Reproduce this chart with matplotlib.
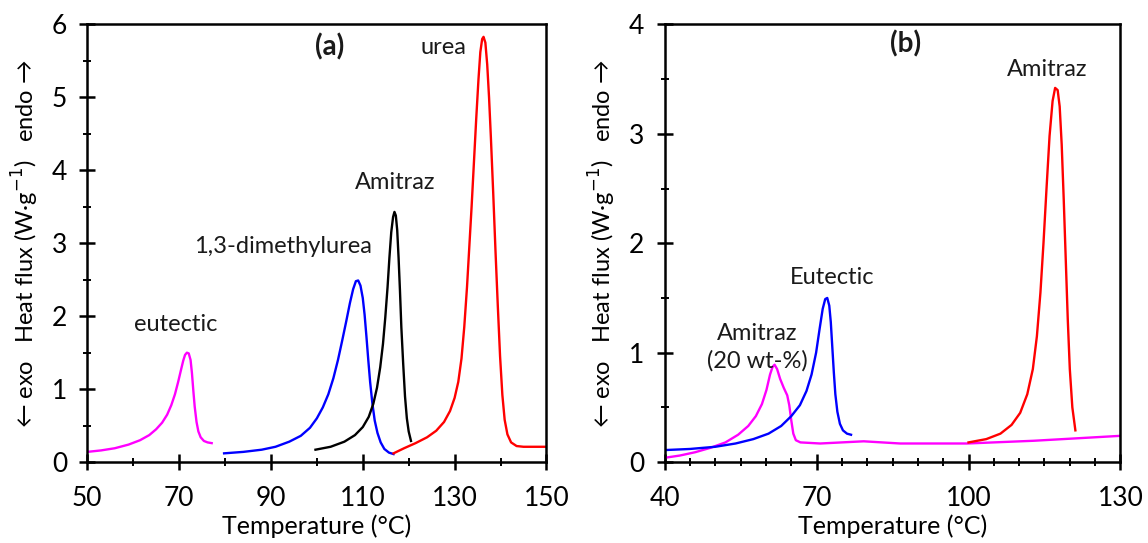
import numpy as np
import matplotlib
matplotlib.use('Agg')
import matplotlib.pyplot as plt
from matplotlib.ticker import MultipleLocator

plt.rcParams['font.family'] = ['Lato', 'DejaVu Sans']

# ---- panel (a) data ----
eut_a_T = [50.0, 53.0, 56.0, 59.0, 61.5, 63.5, 65.0, 66.3, 67.4, 68.3, 69.1, 69.8, 70.4, 70.9, 71.3, 71.7,
           72.1, 72.5, 72.8, 73.1, 73.4, 73.8, 74.2, 74.7, 75.4, 76.2, 77.1]
eut_a_v = [0.14, 0.16, 0.19, 0.24, 0.30, 0.37, 0.45, 0.54, 0.65, 0.78, 0.93, 1.10, 1.26, 1.39, 1.47, 1.50,
           1.49, 1.40, 1.22, 0.98, 0.76, 0.55, 0.42, 0.34, 0.29, 0.27, 0.26]

dmu_T = [79.8, 84.0, 88.0, 91.0, 94.0, 96.5, 98.5, 100.0, 101.3, 102.5, 103.6, 104.6, 105.5, 106.4, 107.2,
         107.9, 108.5, 109.0, 109.5, 110.0, 110.4, 110.8, 111.2, 111.6, 112.1, 112.6, 113.2, 113.9, 114.7,
         115.7, 116.7]
dmu_v = [0.12, 0.14, 0.17, 0.21, 0.28, 0.36, 0.47, 0.60, 0.75, 0.93, 1.15, 1.40, 1.66, 1.93, 2.18,
         2.37, 2.48, 2.49, 2.42, 2.25, 2.02, 1.72, 1.40, 1.10, 0.80, 0.57, 0.40, 0.27, 0.18,
         0.13, 0.11]

ami_a_T = [99.7, 103.0, 106.0, 108.3, 110.0, 111.3, 112.3, 113.1, 113.8, 114.4, 114.9, 115.4, 115.8, 116.2,
           116.6, 116.9, 117.2, 117.5, 117.8, 118.1, 118.4, 118.8, 119.2, 119.6, 120.0, 120.5]
ami_a_v = [0.17, 0.21, 0.28, 0.37, 0.48, 0.62, 0.80, 1.02, 1.30, 1.62, 1.98, 2.40, 2.80, 3.15,
           3.36, 3.43, 3.38, 3.18, 2.80, 2.35, 1.85, 1.35, 0.90, 0.60, 0.42, 0.29]

urea_T = [116.7, 119.0, 121.5, 124.0, 126.0, 127.7, 129.0, 130.0, 130.8, 131.5, 132.1, 132.7, 133.2, 133.7,
          134.2, 134.7, 135.2, 135.6, 136.0, 136.3, 136.7, 137.1, 137.5, 137.9, 138.4, 138.9, 139.4, 139.9,
          140.4, 140.9, 141.5, 142.3, 143.5, 145.0, 150.0]
urea_v = [0.12, 0.19, 0.26, 0.34, 0.43, 0.55, 0.70, 0.88, 1.10, 1.42, 1.85, 2.40, 2.95, 3.50,
          4.10, 4.70, 5.25, 5.62, 5.80, 5.83, 5.75, 5.45, 5.00, 4.45, 3.70, 2.90, 2.15, 1.45,
          0.92, 0.58, 0.38, 0.27, 0.22, 0.21, 0.21]

# ---- panel (b) data ----
eut_b_T = [40.1, 45.0, 50.0, 54.0, 57.5, 60.5, 63.0, 65.0, 66.7, 68.0, 69.0, 69.9, 70.6, 71.2, 71.7, 72.1,
           72.5, 72.8, 73.1, 73.4, 73.7, 74.1, 74.6, 75.2, 76.0, 76.8]
eut_b_v = [0.11, 0.12, 0.14, 0.17, 0.21, 0.26, 0.33, 0.42, 0.52, 0.65, 0.80, 1.00, 1.22, 1.40, 1.49, 1.50,
           1.43, 1.28, 1.05, 0.82, 0.62, 0.46, 0.35, 0.29, 0.26, 0.25]

ami20_T = [40.1, 43.0, 46.0, 49.0, 52.0, 54.5, 56.5, 58.0, 59.2, 60.1, 60.8, 61.3, 61.7, 62.2, 62.8, 63.5,
           64.2, 64.6, 65.0, 65.4, 65.9, 66.8, 70.7, 79.3, 86.5, 99.7, 112.9, 130.0]
ami20_v = [0.04, 0.06, 0.09, 0.13, 0.18, 0.25, 0.33, 0.42, 0.53, 0.66, 0.80, 0.87, 0.89, 0.85, 0.76, 0.68,
           0.61, 0.52, 0.38, 0.26, 0.20, 0.18, 0.17, 0.19, 0.17, 0.17, 0.195, 0.24]

ami_b_T = [100.0, 103.5, 106.3, 108.5, 110.2, 111.6, 112.7, 113.5, 114.2, 114.8, 115.4, 116.0, 116.6, 117.1,
           117.6, 118.0, 118.4, 118.8, 119.2, 119.6, 120.0, 120.5, 121.1]
ami_b_v = [0.18, 0.21, 0.26, 0.34, 0.45, 0.62, 0.85, 1.15, 1.55, 2.00, 2.50, 2.98, 3.30, 3.42,
           3.40, 3.25, 2.90, 2.40, 1.85, 1.30, 0.85, 0.50, 0.29]

YLABEL = '\u2190 exo   Heat flux (W\u00b7g$^{-1}$)   endo \u2192'
XLABEL = 'Temperature (\u00b0C)'
LW = 1.7

fig = plt.figure(figsize=(11.48, 5.43), dpi=100)
ax1 = fig.add_axes([0.076, 0.149, 0.400, 0.806])
ax2 = fig.add_axes([0.579, 0.149, 0.397, 0.806])

ax1.plot(eut_a_T, eut_a_v, color='#ff00ff', lw=LW)
ax1.plot(dmu_T, dmu_v, color='#0000ff', lw=LW)
ax1.plot(ami_a_T, ami_a_v, color='black', lw=LW)
ax1.plot(urea_T, urea_v, color='#ff0000', lw=LW)

ax2.plot(ami20_T, ami20_v, color='#ff00ff', lw=LW)
ax2.plot(eut_b_T, eut_b_v, color='#0000ff', lw=LW)
ax2.plot(ami_b_T, ami_b_v, color='#ff0000', lw=LW)

ax1.set_xlim(50, 150)
ax1.set_ylim(0, 6)
ax1.set_xticks(np.arange(50, 151, 20))
ax1.set_xticks(np.arange(60, 150, 20), minor=True)
ax1.yaxis.set_major_locator(MultipleLocator(1))
ax1.yaxis.set_minor_locator(MultipleLocator(0.5))

ax2.set_xlim(40, 130)
ax2.set_ylim(0, 4)
ax2.set_xticks(np.arange(40, 131, 30))
ax2.set_xticks(np.arange(40, 131, 5), minor=True)
ax2.yaxis.set_major_locator(MultipleLocator(1))
ax2.yaxis.set_minor_locator(MultipleLocator(0.5))

for ax in (ax1, ax2):
    for sp in ax.spines.values():
        sp.set_linewidth(1.8)
    ax.tick_params(which='major', direction='inout', length=11, width=1.8, labelsize=19)
    ax.tick_params(which='minor', direction='inout', length=6, width=1.4)
    ax.tick_params(axis='x', which='major', pad=12)
    ax.tick_params(axis='y', which='major', pad=9)
    ax.set_xlabel(XLABEL, fontsize=18, labelpad=2)
    ax.set_ylabel(YLABEL, fontsize=17, labelpad=8)

# annotations
tk = dict(fontsize=17, ha='center', va='center', color='#1a1a1a')
ax1.text(102.8, 5.69, '(a)', fontweight='bold', fontsize=20, ha='center', va='center', color='#1a1a1a')
ax1.text(127.5, 5.69, 'urea', **tk)
ax1.text(117.0, 3.83, 'Amitraz', **tk)
ax1.text(92.6, 2.95, '1,3-dimethylurea', **tk)
ax1.text(69.3, 1.89, 'eutectic', **tk)

ax2.text(87.5, 3.82, '(b)', fontweight='bold', fontsize=20, ha='center', va='center', color='#1a1a1a')
ax2.text(115.6, 3.59, 'Amitraz', **tk)
ax2.text(73.1, 1.69, 'Eutectic', **tk)
ax2.text(58.3, 1.05, 'Amitraz\n(20 wt-%)', linespacing=1.3, **tk)

fig.savefig('out.png', dpi=100)
